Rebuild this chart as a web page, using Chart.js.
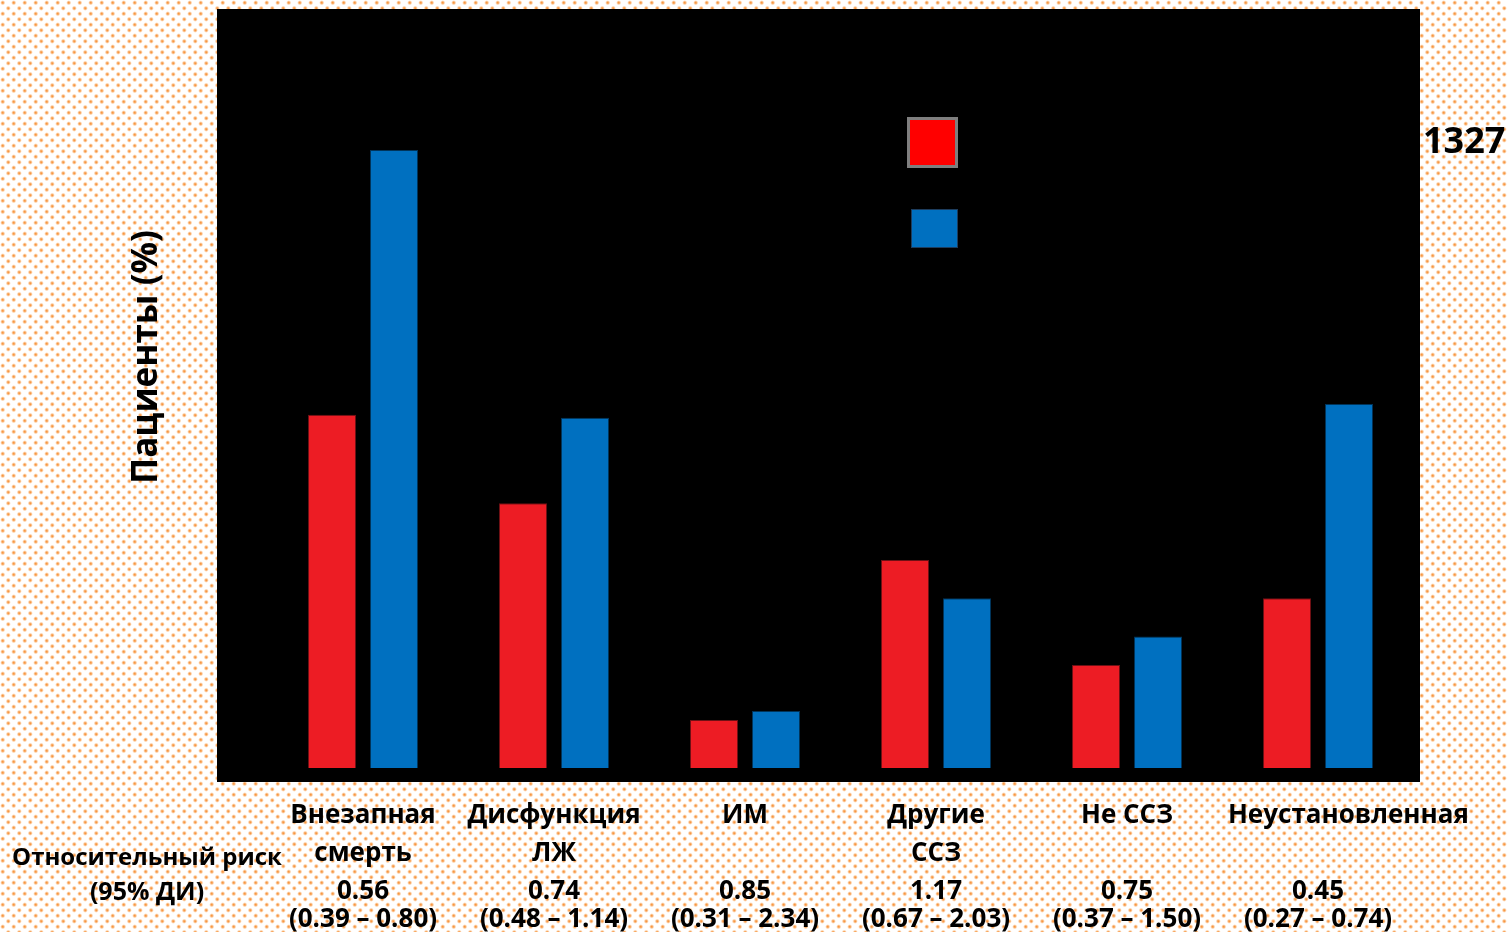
<!DOCTYPE html>
<html lang="ru">
<head>
<meta charset="utf-8">
<title>Причины смерти</title>
<script src="https://cdn.jsdelivr.net/npm/chart.js@4"></script>
<style>
  html, body { margin: 0; padding: 0; background: #ffffff; }
  #chart { display: block; }
</style>
</head>
<body>
<canvas id="chart" width="1507" height="932"></canvas>
<script>
// Causes of death, share of patients (%)
const categories = [
  ['Внезапная', 'смерть'],
  ['Дисфункция', 'ЛЖ'],
  ['ИМ', ''],
  ['Другие', 'ССЗ'],
  ['Не ССЗ', ''],
  ['\u00a0\u00a0\u00a0\u00a0\u00a0\u00a0\u00a0\u00a0\u00a0Неустановленная', '']
];
const seriesNames = ['Бисопролол', 'Плацебо'];
const bisoprolol = [3.6, 2.7, 0.49, 2.12, 1.05, 1.73];
const placebo = [6.3, 3.57, 0.58, 1.73, 1.34, 3.71];
const relativeRisk = ['0.56', '0.74', '0.85', '1.17', '0.75', '0.45'];
const riskInterval = ['(0.39 – 0.80)', '(0.48 – 1.14)', '(0.31 – 2.34)', '(0.67 – 2.03)', '(0.37 – 1.50)', '(0.27 – 0.74)'];
const yTitle = 'Пациенты (%)';
const rowTitle = ['Относительный риск', '(95% ДИ)'];
const sideNote = '1327';

const FONT = '"Open Sans", "DejaVu Sans", sans-serif';

// light dotted backdrop around the plot
function makeDotPattern(ctx) {
  const n = 11;
  const tile = document.createElement('canvas');
  tile.width = n; tile.height = n;
  const t = tile.getContext('2d');
  t.fillStyle = '#ffffff';
  t.fillRect(0, 0, n, n);
  [[2.75, 2.75], [8.25, 8.25]].forEach(([cx, cy]) => {
    const g = t.createRadialGradient(cx, cy, 0, cx, cy, 2.7);
    g.addColorStop(0, 'rgba(246,135,40,1)');
    g.addColorStop(0.45, 'rgba(248,165,90,0.8)');
    g.addColorStop(1, 'rgba(252,215,180,0)');
    t.fillStyle = g;
    t.beginPath(); t.arc(cx, cy, 2.7, 0, Math.PI * 2); t.fill();
  });
  return ctx.createPattern(tile, 'repeat');
}

const backdrop = {
  id: 'backdrop',
  beforeDraw(chart) {
    const { ctx, chartArea: a } = chart;
    ctx.save();
    ctx.fillStyle = makeDotPattern(ctx);
    ctx.fillRect(0, 0, chart.width, chart.height);
    ctx.fillStyle = '#000000';
    ctx.fillRect(a.left, a.top, a.right - a.left, a.bottom - a.top);
    ctx.restore();
  }
};

const annotations = {
  id: 'annotations',
  afterDraw(chart) {
    const { ctx } = chart;
    const x = chart.scales.x;
    ctx.save();
    ctx.fillStyle = '#000000';

    // relative risk under each cause
    ctx.font = 'bold 26px ' + FONT;
    ctx.textAlign = 'center';
    ctx.textBaseline = 'middle';
    relativeRisk.forEach((rr, i) => {
      const px = x.getPixelForValue(i);
      ctx.fillText(rr, px, 892);
      ctx.fillText(riskInterval[i], px, 920);
    });

    // row title at left
    ctx.font = 'bold 24px ' + FONT;
    ctx.fillText(rowTitle[0], 147, 858);
    ctx.font = 'bold 25px ' + FONT;
    ctx.fillText(rowTitle[1], 147, 893);

    // vertical axis title
    ctx.save();
    ctx.translate(157, 357);
    ctx.rotate(-Math.PI / 2);
    ctx.font = 'bold 35px ' + FONT;
    ctx.textBaseline = 'alphabetic';
    ctx.fillText(yTitle, 0, 0);
    ctx.restore();

    // legend swatches
    ctx.fillStyle = '#7f7f7f';
    ctx.fillRect(907, 117, 51, 51);
    ctx.fillStyle = '#ff0000';
    ctx.fillRect(910, 120, 45, 45);
    ctx.fillStyle = '#1d3d5e';
    ctx.fillRect(911, 209, 47, 39);
    ctx.fillStyle = '#0070c0';
    ctx.fillRect(912, 210, 45, 37);

    // group size note
    ctx.fillStyle = '#000000';
    ctx.font = 'bold 36px ' + FONT;
    ctx.textAlign = 'left';
    ctx.textBaseline = 'alphabetic';
    ctx.fillText(sideNote, 1423, 153);
    ctx.restore();
  }
};

function draw() {
  Chart.defaults.font.family = FONT;
  new Chart(document.getElementById('chart'), {
    type: 'bar',
    data: {
      datasets: [
        {
          label: seriesNames[0],
          data: bisoprolol.map((v, i) => ({ x: i, y: v })),
          backgroundColor: '#ed1c24',
          borderColor: '#6e1014',
          borderWidth: 1
        },
        {
          label: seriesNames[1],
          data: placebo.map((v, i) => ({ x: i, y: v })),
          backgroundColor: '#0070c0',
          borderColor: '#00345a',
          borderWidth: 1
        }
      ]
    },
    options: {
      responsive: false,
      animation: false,
      devicePixelRatio: 1,
      categoryPercentage: 0.6492,
      barPercentage: 0.7742,
      layout: { padding: { left: 217, right: 87, top: 9, bottom: 0 } },
      plugins: {
        legend: { display: false },
        tooltip: { enabled: false },
        title: { display: false }
      },
      scales: {
        x: {
          type: 'linear',
          offset: false,
          min: -0.7644,
          max: 5.534,
          grid: { display: false, drawTicks: false },
          border: { display: false },
          afterBuildTicks(axis) {
            axis.ticks = categories.map((_, i) => ({ value: i }));
          },
          afterFit(axis) { axis.height = 150; },
          ticks: {
            autoSkip: false,
            maxRotation: 0,
            minRotation: 0,
            padding: 15,
            color: '#000000',
            font: { size: 26, weight: 'bold', lineHeight: '38px' },
            callback(value, index) { return categories[index]; }
          }
        },
        y: {
          display: false,
          min: -0.1427,
          max: 7.737
        }
      }
    },
    plugins: [backdrop, annotations]
  });
}

if (document.fonts && document.fonts.load) {
  Promise.all([
    document.fonts.load('bold 26px "Open Sans"'),
    document.fonts.load('26px "Open Sans"')
  ]).then(draw, draw);
} else {
  draw();
}
</script>
</body>
</html>
